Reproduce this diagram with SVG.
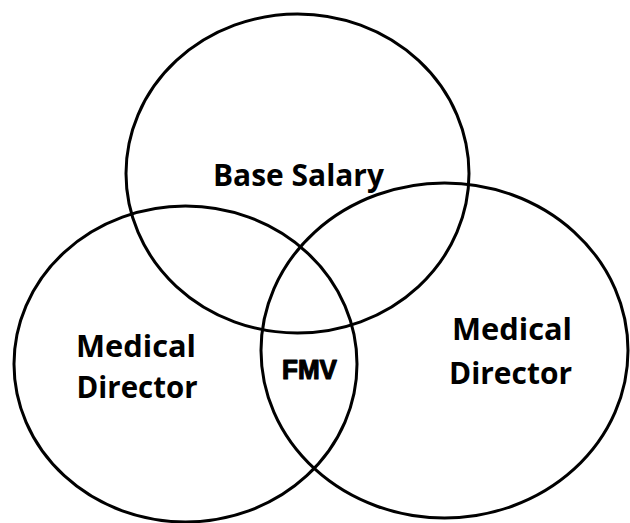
<svg xmlns="http://www.w3.org/2000/svg" width="630" height="523" viewBox="0 0 630 523">
<style>
.ring{fill:none;stroke:#000;stroke-width:3}
.lbl{font-family:"Open Sans","Liberation Sans",sans-serif;font-weight:bold;fill:#000;text-anchor:middle}
.fmv{font-family:"Liberation Sans",Arial,sans-serif;font-weight:bold;fill:#000;stroke:#000;stroke-width:1.2;stroke-linejoin:round;text-anchor:middle}
</style>
<rect width="630" height="523" fill="#fff"/>
<g id="connectors"></g>
<g id="base-salary">
<ellipse class="ring" cx="297.5" cy="173.5" rx="171.5" ry="159.5"/>
<text class="lbl" x="298.5" y="186" font-size="30" textLength="171" lengthAdjust="spacingAndGlyphs">Base Salary</text>
</g>
<g id="medical-director-left">
<ellipse class="ring" cx="185.5" cy="364" rx="171.5" ry="158"/>
<text class="lbl" x="136" y="357" font-size="31" textLength="120" lengthAdjust="spacingAndGlyphs">Medical</text>
<text class="lbl" x="137" y="398" font-size="31" textLength="121" lengthAdjust="spacingAndGlyphs">Director</text>
</g>
<g id="medical-director-right">
<ellipse class="ring" cx="444.5" cy="350.5" rx="183.5" ry="167.5"/>
<text class="lbl" x="512" y="340" font-size="31" textLength="120" lengthAdjust="spacingAndGlyphs">Medical</text>
<text class="lbl" x="510.5" y="384" font-size="31" textLength="123" lengthAdjust="spacingAndGlyphs">Director</text>
</g>
<g id="fmv">
<text class="fmv" x="309.5" y="379" font-size="27" textLength="55" lengthAdjust="spacingAndGlyphs">FMV</text>
</g>
</svg>
